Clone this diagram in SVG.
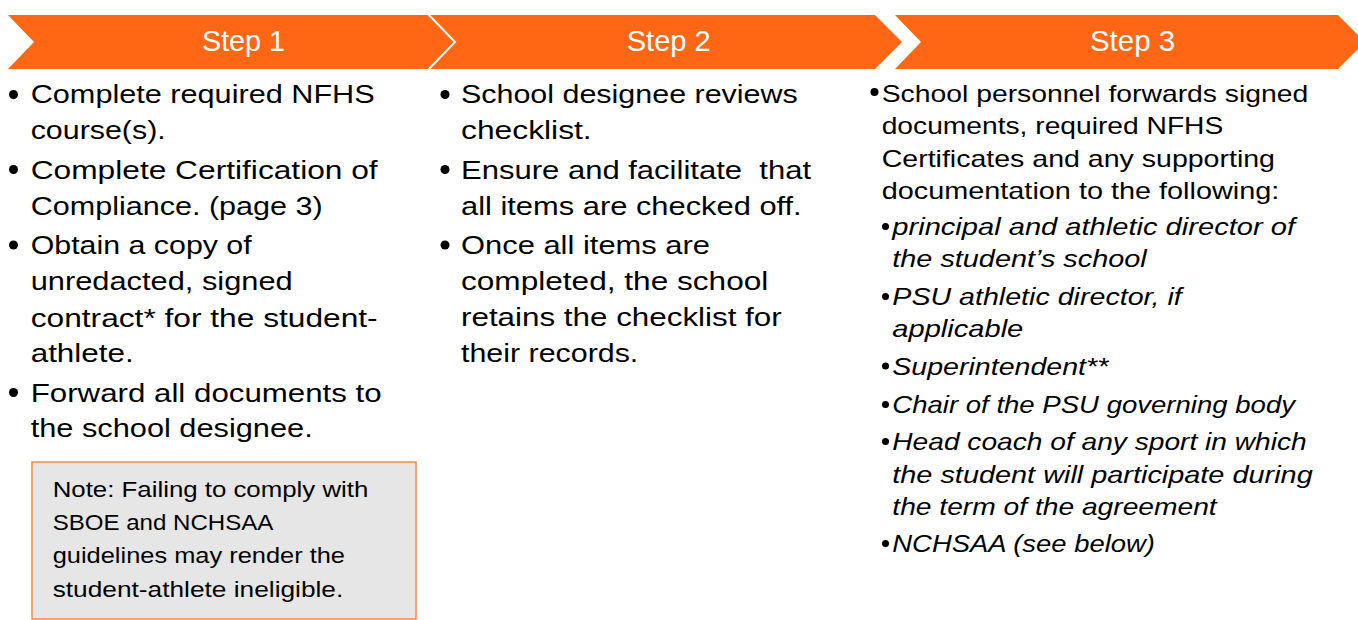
<svg xmlns="http://www.w3.org/2000/svg" width="1358" height="620" viewBox="0 0 1358 620">
  <style>
    .chev { fill: #FF6714; }
    .lbl { font-family: "Liberation Sans", Arial, sans-serif; font-size: 29px; fill: #FFFFFF; }
    .body { font-family: "Liberation Sans", Arial, sans-serif; font-size: 26px; fill: #000000; }
    .b3 { font-family: "Liberation Sans", Arial, sans-serif; font-size: 24px; fill: #000000; }
    .it { font-family: "Liberation Sans", Arial, sans-serif; font-size: 24px; font-style: italic; fill: #000000; }
    .note { font-family: "Liberation Sans", Arial, sans-serif; font-size: 22.5px; fill: #000000; }
    .dot { fill: #000000; }
  </style>
  <rect width="1358" height="620" fill="#FFFFFF"/>

  <g id="step3">
    <polygon class="chev" points="895,15 1338,15 1365,42 1338,69 895,69 921,42"/>
    <text class="lbl" x="1090" y="50.5" textLength="85" lengthAdjust="spacingAndGlyphs">Step 3</text>
    <circle class="dot" cx="874.5" cy="92" r="4"/>
    <text class="b3" x="881.7" y="101.7" textLength="426.6" lengthAdjust="spacingAndGlyphs">School personnel forwards signed</text>
    <text class="b3" x="881.7" y="133.5" textLength="341.6" lengthAdjust="spacingAndGlyphs">documents, required NFHS</text>
    <text class="b3" x="881.7" y="166.5" textLength="393.3" lengthAdjust="spacingAndGlyphs">Certificates and any supporting</text>
    <text class="b3" x="881.7" y="198.5" textLength="397.6" lengthAdjust="spacingAndGlyphs">documentation to the following:</text>
    <circle class="dot" cx="885.5" cy="226.5" r="3.5"/>
    <text class="it" x="892.3" y="235" textLength="402.7" lengthAdjust="spacingAndGlyphs">principal and athletic director of</text>
    <text class="it" x="892.3" y="267" textLength="254.4" lengthAdjust="spacingAndGlyphs">the student’s school</text>
    <circle class="dot" cx="885.5" cy="296.5" r="3.5"/>
    <text class="it" x="892.3" y="305" textLength="289.4" lengthAdjust="spacingAndGlyphs">PSU athletic director, if</text>
    <text class="it" x="892.3" y="337" textLength="131" lengthAdjust="spacingAndGlyphs">applicable</text>
    <circle class="dot" cx="885.5" cy="366" r="3.5"/>
    <text class="it" x="892.3" y="375" textLength="216" lengthAdjust="spacingAndGlyphs">Superintendent**</text>
    <circle class="dot" cx="885.5" cy="404.5" r="3.5"/>
    <text class="it" x="892.3" y="413" textLength="402.7" lengthAdjust="spacingAndGlyphs">Chair of the PSU governing body</text>
    <circle class="dot" cx="885.5" cy="441.5" r="3.5"/>
    <text class="it" x="892.3" y="450" textLength="414.4" lengthAdjust="spacingAndGlyphs">Head coach of any sport in which</text>
    <text class="it" x="892.3" y="483" textLength="420.4" lengthAdjust="spacingAndGlyphs">the student will participate during</text>
    <text class="it" x="892.3" y="515" textLength="324.4" lengthAdjust="spacingAndGlyphs">the term of the agreement</text>
    <circle class="dot" cx="885.5" cy="543.5" r="3.5"/>
    <text class="it" x="892.3" y="552" textLength="262.7" lengthAdjust="spacingAndGlyphs">NCHSAA (see below)</text>
  </g>

  <g id="step2">
    <polygon class="chev" points="420,15 875,15 902,42 875,69 420,69"/>
    <text class="lbl" x="626.7" y="50.5" textLength="84" lengthAdjust="spacingAndGlyphs">Step 2</text>
    <circle class="dot" cx="445" cy="94.5" r="4.5"/>
    <text class="body" x="461" y="103" textLength="336.7" lengthAdjust="spacingAndGlyphs">School designee reviews</text>
    <text class="body" x="461" y="138.5" textLength="130.7" lengthAdjust="spacingAndGlyphs">checklist.</text>
    <circle class="dot" cx="445" cy="169.5" r="4.5"/>
    <text class="body" x="461" y="178.5" textLength="350" lengthAdjust="spacingAndGlyphs" xml:space="preserve">Ensure and facilitate  that</text>
    <text class="body" x="461" y="214.5" textLength="340.7" lengthAdjust="spacingAndGlyphs">all items are checked off.</text>
    <circle class="dot" cx="445" cy="245" r="4.5"/>
    <text class="body" x="461" y="254" textLength="249" lengthAdjust="spacingAndGlyphs">Once all items are</text>
    <text class="body" x="461" y="290" textLength="307.3" lengthAdjust="spacingAndGlyphs">completed, the school</text>
    <text class="body" x="461" y="326" textLength="320.7" lengthAdjust="spacingAndGlyphs">retains the checklist for</text>
    <text class="body" x="461" y="361.5" textLength="177.3" lengthAdjust="spacingAndGlyphs">their records.</text>
  </g>

  <g id="step1">
    <polygon class="chev" points="8,15 428,15 455,42 428,69 8,69 34,42"/>
    <polyline points="428,14 455,42 428,70" fill="none" stroke="#FFFFFF" stroke-width="2"/>
    <text class="lbl" x="202" y="50.5" textLength="83" lengthAdjust="spacingAndGlyphs">Step 1</text>
    <circle class="dot" cx="13.5" cy="94.5" r="4.5"/>
    <text class="body" x="30.7" y="103" textLength="344" lengthAdjust="spacingAndGlyphs">Complete required NFHS</text>
    <text class="body" x="30.7" y="138.5" textLength="135" lengthAdjust="spacingAndGlyphs">course(s).</text>
    <circle class="dot" cx="13.5" cy="169.5" r="4.5"/>
    <text class="body" x="30.7" y="178.5" textLength="347" lengthAdjust="spacingAndGlyphs">Complete Certification of</text>
    <text class="body" x="30.7" y="214.5" textLength="292" lengthAdjust="spacingAndGlyphs">Compliance. (page 3)</text>
    <circle class="dot" cx="13.5" cy="245" r="4.5"/>
    <text class="body" x="30.7" y="254" textLength="221" lengthAdjust="spacingAndGlyphs">Obtain a copy of</text>
    <text class="body" x="30.7" y="290" textLength="262" lengthAdjust="spacingAndGlyphs">unredacted, signed</text>
    <text class="body" x="30.7" y="326.5" textLength="347" lengthAdjust="spacingAndGlyphs">contract* for the student-</text>
    <text class="body" x="30.7" y="361.5" textLength="103" lengthAdjust="spacingAndGlyphs">athlete.</text>
    <circle class="dot" cx="13.5" cy="392.5" r="4.5"/>
    <text class="body" x="30.7" y="401.5" textLength="351" lengthAdjust="spacingAndGlyphs">Forward all documents to</text>
    <text class="body" x="30.7" y="437" textLength="282" lengthAdjust="spacingAndGlyphs">the school designee.</text>
  </g>

  <g id="note">
    <rect x="32" y="462" width="384" height="157" fill="#E7E6E6" stroke="#F58A4C" stroke-width="1.5"/>
    <text class="note" x="52.7" y="496.7" textLength="315.6" lengthAdjust="spacingAndGlyphs">Note: Failing to comply with</text>
    <text class="note" x="52.7" y="530" textLength="220.6" lengthAdjust="spacingAndGlyphs">SBOE and NCHSAA</text>
    <text class="note" x="52.7" y="563.3" textLength="292.3" lengthAdjust="spacingAndGlyphs">guidelines may render the</text>
    <text class="note" x="52.7" y="596.7" textLength="290.6" lengthAdjust="spacingAndGlyphs">student-athlete ineligible.</text>
  </g>

  <g id="connectors"></g>
</svg>
